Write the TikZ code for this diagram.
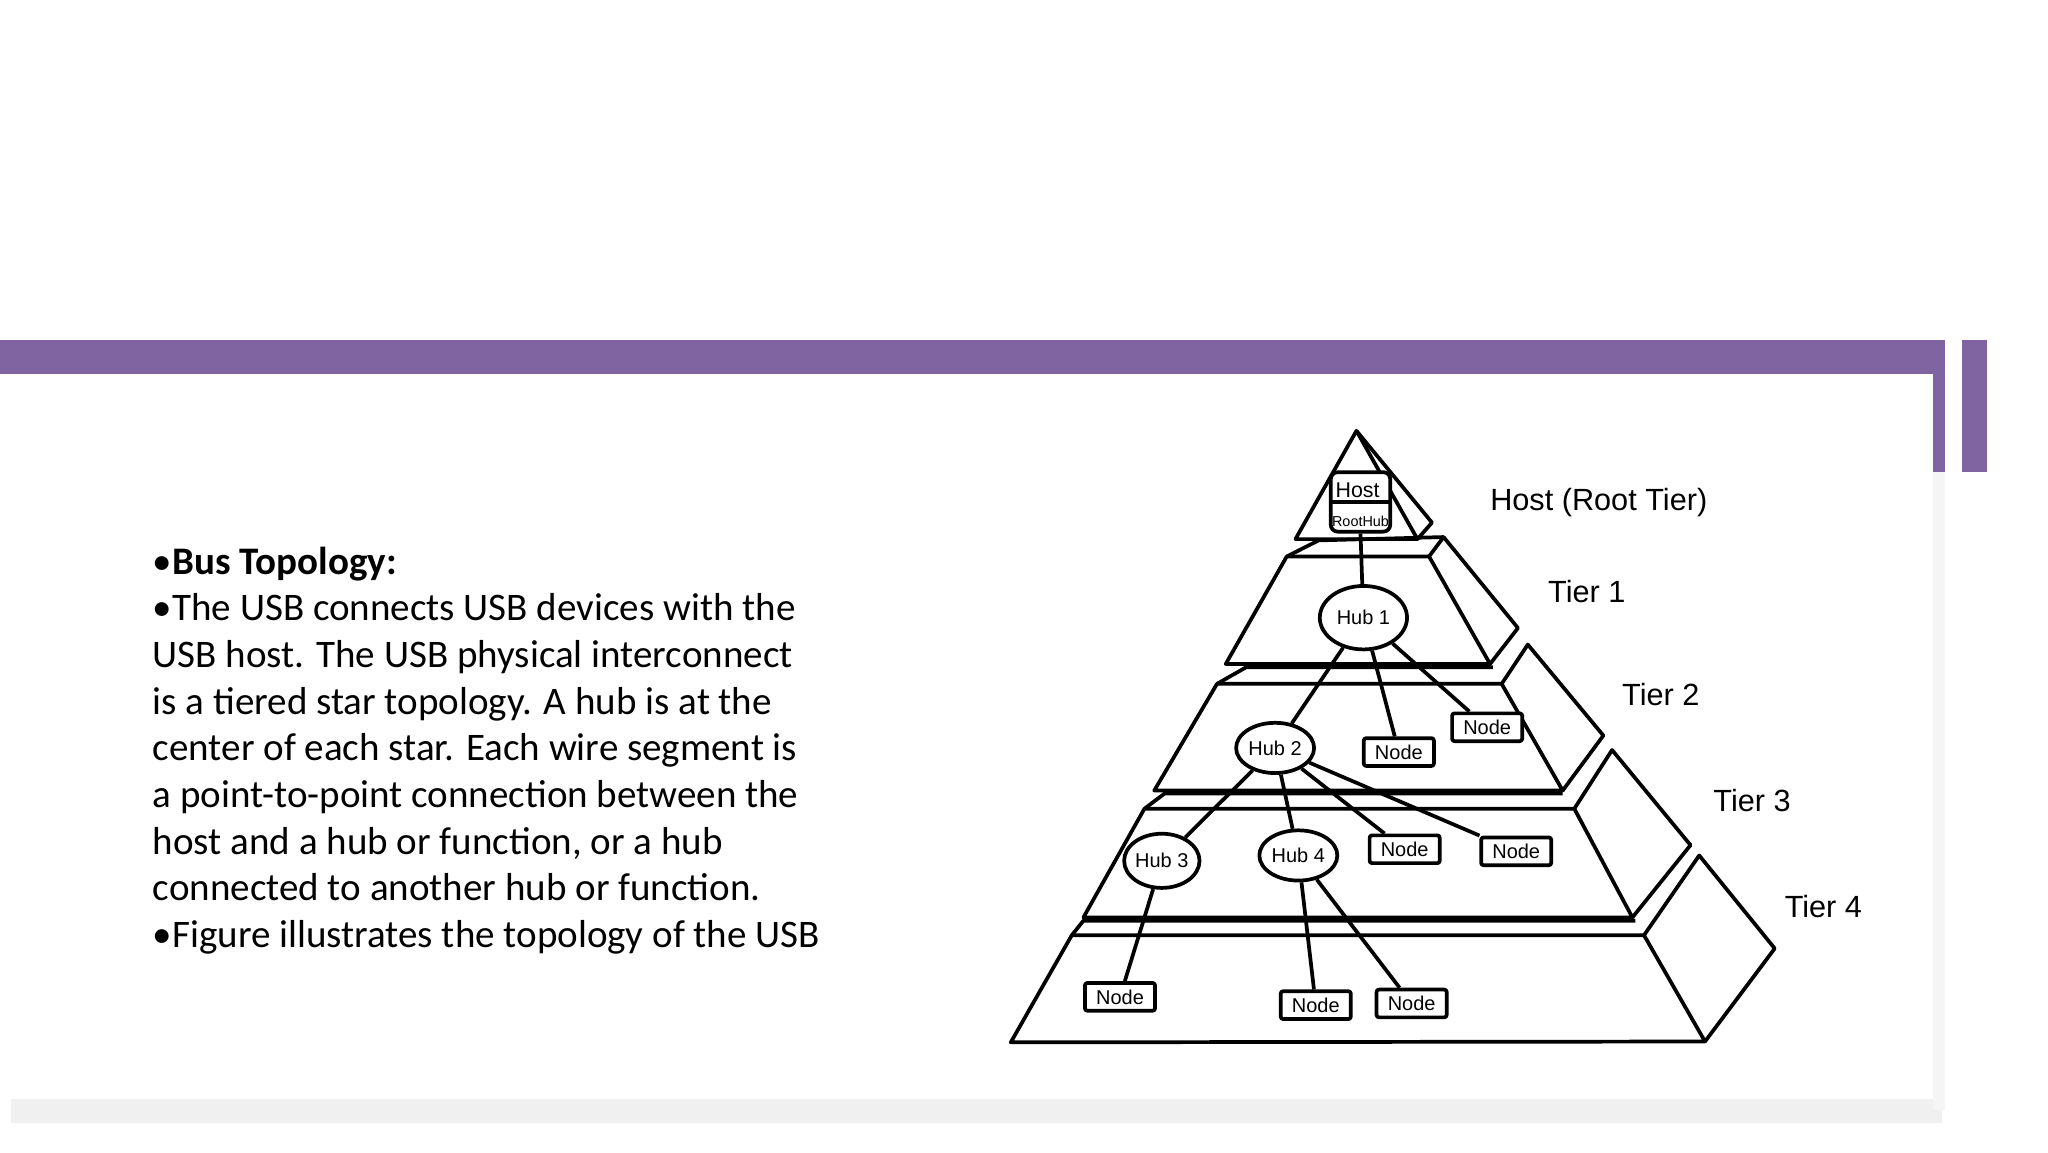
\documentclass[tikz,border=0pt]{standalone}
\usepackage{fontspec}
\setmainfont{Carlito}
\newfontfamily\diafont{Liberation Sans}
\usetikzlibrary{shapes.geometric,positioning}
\definecolor{slidepurple}{HTML}{8064A2}
\tikzstyle{hub} = [ellipse, draw=black, thick, fill=white, inner sep=0pt, font=\diafont\fontsize{4.3}{5}\selectfont]
\tikzstyle{dev} = [rectangle, rounded corners=0.5pt, draw=black, thick, fill=white, minimum width=0.53cm, minimum height=0.21cm, inner sep=0pt, font=\diafont\fontsize{4.3}{5}\selectfont]
\tikzstyle{tier} = [font=\diafont\fontsize{6.6}{8}\selectfont, anchor=center]
\tikzstyle{line} = [draw, thick]
\begin{document}
\begin{tikzpicture}[x=0.01cm, y=-0.01cm]
				\useasboundingbox (0,0) rectangle (1550,872);
				% slide frame
				\fill[black!6] (8,832) rectangle (1470,850);
				\fill[black!4] (1463,357) rectangle (1472,840);
				\fill[slidepurple] (0,257) rectangle (1472,283);
				\fill[slidepurple] (1463,257) rectangle (1472,357);
				\fill[slidepurple] (1485,257) rectangle (1504,357);
				% text
				\node[anchor=north west, align=left, inner sep=0pt, font=\fontsize{8.4}{10.05}\selectfont] (body) at (115,413)
				{\textbullet\textbf{Bus Topology:}\\
				\textbullet The USB connects USB devices with the\\
				USB host. The USB physical interconnect\\
				is a tiered star topology. A hub is at the\\
				center of each star. Each wire segment is\\
				a point-to-point connection between the\\
				host and a hub or function, or a hub\\
				connected to another hub or function.\\
				\textbullet Figure illustrates the topology of the USB};
				% pyramid
				\begin{scope}[shift={(758.4,320.4)}, x=0.004393cm, y=-0.00313cm, line join=round]
				\draw[thick] (505,280) -- (610,18) -- (715,280) -- cycle;
				\draw[thick] (610,18) -- (740,240) -- (715,280);
				\draw[thick] (490,322) -- (735,322) -- (840,582) -- (385,582) -- cycle;
				\draw[thick] (490,322) -- (545,283) -- (760,275) -- (735,322);
				\draw[thick] (760,275) -- (888,495) -- (840,582);
				\draw[thick] (370,630) -- (860,630) -- (965,888) -- (262,888) -- cycle;
				\draw[thick] (370,630) -- (420,590) -- (845,590);
				\draw[thick] (860,630) -- (905,535) -- (1035,755) -- (965,888);
				\draw[thick] (245,932) -- (985,932) -- (1085,1195) -- (140,1195) -- cycle;
				\draw[thick] (245,932) -- (280,895) -- (965,895);
				\draw[thick] (985,932) -- (1050,790) -- (1185,1020) -- (1085,1195);
				\draw[thick] (120,1238) -- (1105,1238) -- (1210,1495) -- (15,1497) -- cycle;
				\draw[thick] (120,1238) -- (140,1203) -- (1090,1203);
				\draw[thick] (1105,1238) -- (1200,1045) -- (1330,1270) -- (1210,1495);
				% nodes
				\node[dev, minimum width=0.45cm, minimum height=0.45cm, rounded corners=1.5pt] (host) at (617,190) {};
				\draw[thick] (host.west) -- (host.east);
				\node[font=\diafont\fontsize{4.6}{5}\selectfont] (hostlbl) at (612,162) {Host};
				\node[font=\diafont\fontsize{3.1}{4}\selectfont] (roothub) at (617,236) {RootHub};
				\node[hub, minimum width=0.66cm, minimum height=0.48cm] (hub1) at (622,470) {Hub 1};
				\node[hub, minimum width=0.59cm, minimum height=0.38cm] (hub2) at (470,785) {Hub 2};
				\node[hub, minimum width=0.57cm, minimum height=0.41cm] (hub3) at (275,1058) {Hub 3};
				\node[hub, minimum width=0.59cm, minimum height=0.38cm] (hub4) at (510,1045) {Hub 4};
				\node[dev] (nodeA) at (835,735) {Node};
				\node[dev] (nodeB) at (683,795) {Node};
				\node[dev] (nodeC) at (693,1030) {Node};
				\node[dev] (nodeD) at (885,1035) {Node};
				\node[dev] (nodeE) at (203,1387) {Node};
				\node[dev] (nodeF) at (540,1407) {Node};
				\node[dev] (nodeG) at (705,1403) {Node};
				\path [line] (host.south) -- (hub1);
				\path [line] (hub1) -- (hub2);
				\path [line] (hub1) -- (nodeB);
				\path [line] (hub1) -- (nodeA);
				\path [line] (hub2) -- (hub3);
				\path [line] (hub2) -- (hub4);
				\path [line] (hub2) -- (nodeC);
				\path [line] (hub2) -- (nodeD);
				\path [line] (hub3) -- (nodeE);
				\path [line] (hub4) -- (nodeF);
				\path [line] (hub4) -- (nodeG);
				\end{scope}
				% tier labels
				\node[tier] (t0) at (1210,380) {Host (Root Tier)};
				\node[tier] (t1) at (1201,448) {Tier 1};
				\node[tier] (t2) at (1257,526) {Tier 2};
				\node[tier] (t3) at (1326,606) {Tier 3};
				\node[tier] (t4) at (1380,686) {Tier 4};
\end{tikzpicture}
\end{document}
